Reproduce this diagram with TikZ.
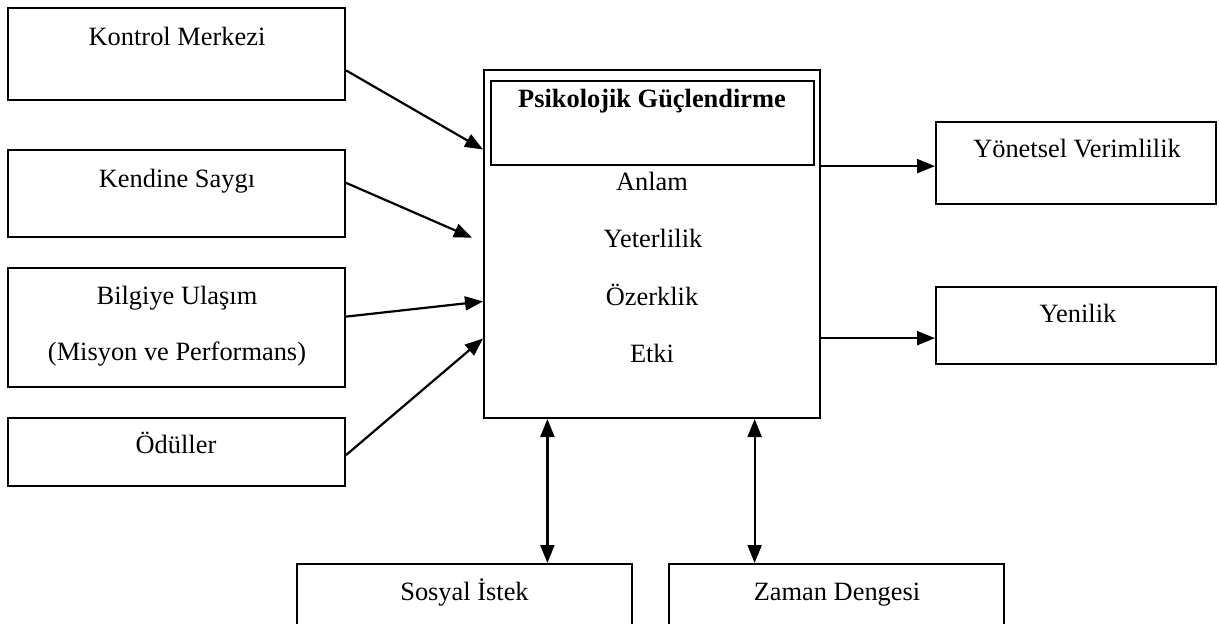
\documentclass[tikz,border=0pt]{standalone}
\usepackage{fontspec}
\setmainfont{Liberation Serif}
\usetikzlibrary{arrows.meta,calc}
\begin{document}
\begin{tikzpicture}[x=0.5pt,y=-0.5pt,
  box/.style={draw,line width=1pt,rectangle,inner sep=0pt,anchor=center},
  lbl/.style={anchor=base,inner sep=0pt,font=\fontsize{13.2}{16}\selectfont},
  conn/.style={line width=1.1pt,-{Triangle[length=9pt,width=7pt]}},
  dconn/.style={line width=1.1pt,{Triangle[length=9pt,width=7pt]}-{Triangle[length=9pt,width=7pt]}}]
\path[use as bounding box] (0,0) rectangle (1219,623);
\clip (0,0) rectangle (1219,623);
% left boxes
\node[box,minimum width=337*0.5pt,minimum height=92*0.5pt] (kon) at (176.5,54) {};
\node[box,minimum width=337*0.5pt,minimum height=87*0.5pt] (ken) at (176.5,193.5) {};
\node[box,minimum width=337*0.5pt,minimum height=119*0.5pt] (bil) at (176.5,327.5) {};
\node[box,minimum width=337*0.5pt,minimum height=68*0.5pt] (odu) at (176.5,452) {};
% main
\node[box,minimum width=336*0.5pt,minimum height=348*0.5pt] (main) at (652,244) {};
\node[box,line width=1.3pt,minimum width=323*0.5pt,minimum height=84*0.5pt] (inner) at (652.5,123) {};
% right boxes
\node[box,minimum width=280*0.5pt,minimum height=82*0.5pt] (yon) at (1076,163) {};
\node[box,minimum width=280*0.5pt,minimum height=77*0.5pt] (yen) at (1076,325.5) {};
% bottom boxes
\node[box,minimum width=335*0.5pt,minimum height=80*0.5pt] (sos) at (464.5,604) {};
\node[box,minimum width=335*0.5pt,minimum height=80*0.5pt] (zam) at (836.5,604) {};
% texts
\node[lbl] (t1) at (177,45) {Kontrol Merkezi};
\node[lbl] (t2) at (177,187) {Kendine Saygı};
\node[lbl] (t3) at (177,304) {Bilgiye Ulaşım};
\node[lbl] (t4) at (177,360) {(Misyon ve Performans)};
\node[lbl] (t5) at (176,453) {Ödüller};
\node[lbl,font=\fontsize{13.2}{16}\selectfont\bfseries] (t6) at (652,107) {Psikolojik Güçlendirme};
\node[lbl] (t7) at (652,190) {Anlam};
\node[lbl] (t8) at (653,247) {Yeterlilik};
\node[lbl] (t9) at (652,305) {Özerklik};
\node[lbl] (t10) at (652,362) {Etki};
\node[lbl] (t11) at (1077,157) {Yönetsel Verimlilik};
\node[lbl] (t12) at (1078,322) {Yenilik};
\node[lbl] (t13) at (464.5,600) {Sosyal İstek};
\node[lbl] (t14) at (837,600) {Zaman Dengesi};
% connectors left
\draw[conn] ($(kon.north east)!0.674!(kon.south east)$) -- ($(main.north west)!0.23!(main.south west)$);
\draw[conn] ($(ken.north east)!0.38!(ken.south east)$) -- ($(main.north west)!0.482!(main.south west)+(-11,0)$);
\draw[conn] ($(bil.north east)!0.41!(bil.south east)$) -- ($(main.north west)!0.664!(main.south west)$);
\draw[conn] ($(odu.north east)!0.544!(odu.south east)$) -- ($(main.north west)!0.77!(main.south west)$);
% right
\coordinate (ya) at ($(yon.north west)!0.537!(yon.south west)$);
\coordinate (yb) at ($(yen.north west)!0.66!(yen.south west)$);
\draw[conn] (main.east |- ya) -- (ya);
\draw[conn] (main.east |- yb) -- (yb);
% bottom
\coordinate (sa) at ($(sos.north west)!0.746!(sos.north east)$);
\coordinate (za) at ($(zam.north west)!0.257!(zam.north east)$);
\draw[dconn] (main.south -| sa) -- (sa);
\draw[dconn] (main.south -| za) -- (za);
\end{tikzpicture}
\end{document}
